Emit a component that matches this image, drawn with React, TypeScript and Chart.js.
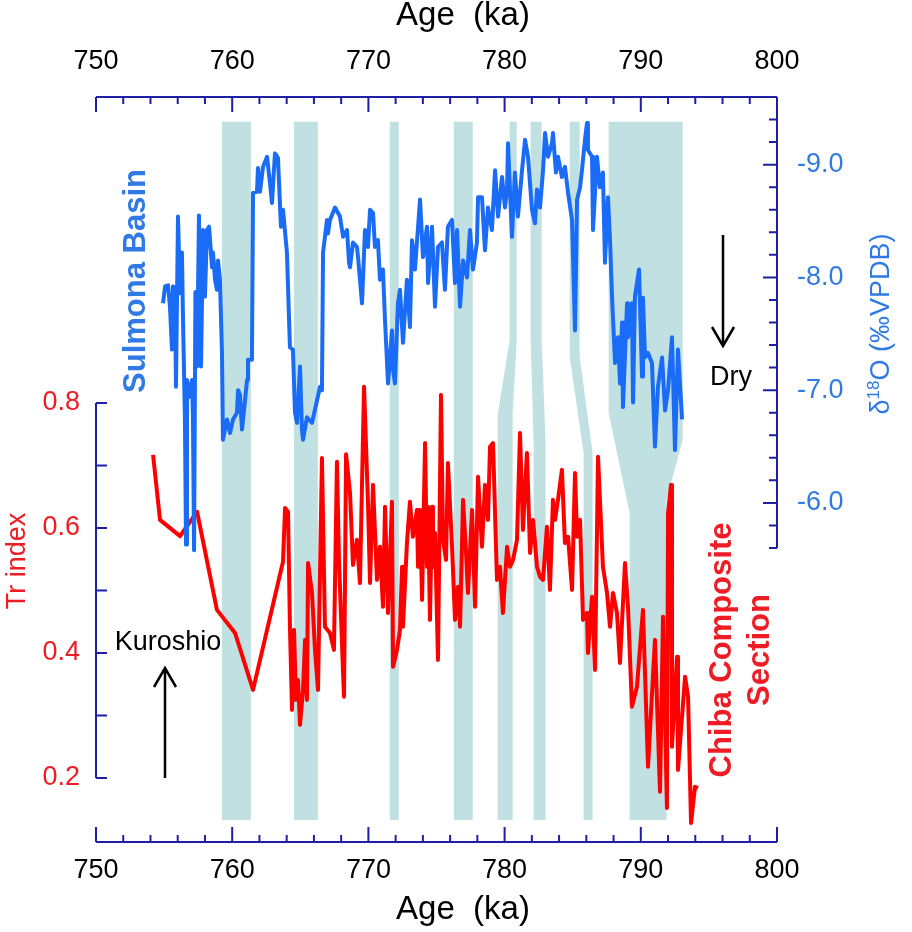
import React, { useEffect, useRef } from 'react';
import { Chart, registerables } from 'chart.js';

Chart.register(...registerables);

// ---------- data ----------
const blueAge = [
  754.92, 755.07, 755.29, 755.43, 755.58, 755.65, 755.80, 755.87, 756.02, 756.17,
  756.31, 756.39, 756.53, 756.61, 756.68, 756.83, 757.05, 757.12, 757.20, 757.30,
  757.42, 757.56, 757.71, 757.86, 758.00, 758.15, 758.30, 758.52, 758.59, 758.74,
  758.88, 758.96, 759.10, 759.25, 759.32, 759.62, 759.84, 760.06, 760.35, 760.43,
  760.57, 760.72, 760.94, 761.09, 761.16, 761.45, 761.53, 761.82, 761.89, 762.04,
  762.26, 762.56, 762.78, 762.92, 763.14, 763.36, 763.58, 763.73, 764.02, 764.24,
  764.46, 764.61, 764.76, 764.98, 765.12, 765.20, 765.49, 765.86, 766.23, 766.45,
  766.59, 766.67, 766.96, 767.03, 767.18, 767.55, 767.91, 768.14, 768.43, 768.58,
  768.65, 768.87, 769.16, 769.24, 769.53, 769.75, 769.97, 770.12, 770.34, 770.48,
  770.70, 770.85, 771.07, 771.22, 771.44, 771.73, 771.81, 771.95, 772.17, 772.32,
  772.54, 772.83, 773.05, 773.20, 773.42, 773.79, 774.01, 774.30, 774.38, 774.67,
  774.89, 775.11, 775.40, 775.62, 775.84, 776.14, 776.36, 776.51, 776.73, 776.95,
  777.24, 777.46, 777.68, 777.97, 778.05, 778.34, 778.56, 778.78, 779.07, 779.30,
  779.52, 779.81, 780.03, 780.18, 780.25, 780.54, 780.76, 780.98, 781.28, 781.50,
  781.72, 782.01, 782.23, 782.38, 782.60, 782.82, 782.97, 783.19, 783.48, 783.55,
  783.77, 783.92, 784.21, 784.43, 784.66, 784.95, 785.17, 785.32, 785.54, 785.68,
  785.90, 786.05, 786.12, 786.42, 786.49, 786.78, 787.00, 787.22, 787.37, 787.59,
  787.74, 787.89, 788.11, 788.33, 788.47, 788.62, 788.69, 788.99, 789.06, 789.35,
  789.43, 789.57, 789.72, 789.87, 790.09, 790.16, 790.31, 790.53, 790.82, 791.04,
  791.26, 791.56, 791.78, 792.00, 792.29, 792.51, 792.73, 793.03,
];
const blueD18O = [
  -7.77, -7.92, -7.93, -7.74, -7.36, -7.92, -7.91, -7.03, -8.54, -7.86,
  -8.22, -7.62, -6.74, -5.63, -7.09, -6.94, -7.09, -6.74, -5.58, -7.87,
  -7.21, -8.55, -7.21, -8.42, -7.83, -8.42, -8.45, -8.09, -8.22, -7.98,
  -7.89, -8.15, -7.98, -7.33, -6.56, -6.74, -6.62, -6.74, -6.80, -7.00,
  -6.96, -6.65, -6.91, -7.09, -7.27, -7.27, -8.75, -8.76, -8.97, -8.76,
  -8.98, -9.07, -8.83, -8.66, -9.10, -9.06, -8.45, -8.60, -8.22, -7.38,
  -7.36, -6.80, -6.71, -7.21, -6.65, -6.56, -6.76, -6.71, -6.91, -7.03,
  -7.00, -8.22, -8.51, -8.39, -8.51, -8.62, -8.54, -8.36, -8.42, -8.13,
  -8.09, -8.31, -8.27, -8.18, -7.77, -8.42, -8.27, -8.60, -8.57, -8.27,
  -8.33, -7.98, -8.07, -7.62, -7.06, -7.53, -7.18, -7.06, -7.77, -7.89,
  -7.42, -7.98, -7.56, -8.33, -8.07, -8.69, -8.18, -8.45, -7.95, -8.45,
  -7.74, -8.27, -8.31, -7.89, -8.45, -8.51, -7.95, -8.42, -7.74, -8.15,
  -8.00, -8.42, -8.07, -8.31, -8.71, -8.71, -8.24, -8.62, -8.42, -8.95,
  -8.54, -8.89, -8.62, -8.78, -9.19, -8.36, -8.93, -8.54, -8.95, -9.22,
  -9.07, -8.60, -8.48, -8.78, -8.62, -8.95, -9.28, -9.07, -9.19, -9.28,
  -8.93, -9.07, -8.89, -8.98, -8.75, -8.51, -7.53, -8.69, -8.80, -8.95,
  -9.22, -9.37, -9.13, -9.07, -8.42, -9.07, -8.80, -8.93, -8.13, -8.71,
  -8.33, -7.82, -7.24, -7.47, -7.06, -7.60, -6.85, -7.77, -7.47, -7.77,
  -6.89, -7.83, -7.95, -8.07, -7.12, -7.82, -7.29, -7.33, -7.24, -6.50,
  -7.03, -7.29, -6.82, -7.00, -7.47, -6.47, -7.36, -6.74,
];
const redAge = [
  754.19, 754.70, 756.17, 757.42, 758.88, 760.21, 761.53, 763.73, 763.88, 764.10,
  764.24, 764.39, 764.54, 764.68, 764.83, 764.98, 765.20, 765.35, 765.49, 765.57,
  765.86, 766.08, 766.30, 766.59, 766.81, 767.18, 767.47, 767.69, 767.84, 768.14,
  768.21, 768.36, 768.65, 768.87, 769.16, 769.38, 769.68, 769.97, 770.12, 770.34,
  770.63, 770.85, 771.07, 771.22, 771.44, 771.73, 771.81, 772.10, 772.32, 772.47,
  772.54, 772.83, 773.05, 773.27, 773.57, 773.64, 773.79, 773.94, 774.16, 774.30,
  774.38, 774.52, 774.67, 774.74, 774.89, 775.11, 775.33, 775.48, 775.70, 775.84,
  776.14, 776.36, 776.58, 776.73, 776.95, 777.17, 777.31, 777.61, 777.83, 778.05,
  778.34, 778.56, 778.78, 778.93, 779.15, 779.44, 779.66, 779.88, 780.18, 780.40,
  780.62, 780.91, 781.13, 781.35, 781.64, 781.87, 782.09, 782.38, 782.60, 782.82,
  783.11, 783.33, 783.55, 783.70, 783.92, 784.21, 784.43, 784.66, 784.95, 785.17,
  785.32, 785.54, 785.76, 786.05, 786.12, 786.42, 786.64, 786.86, 787.22, 787.52,
  787.74, 787.96, 788.25, 788.47, 788.84, 789.06, 789.35, 789.72, 790.16, 790.53,
  791.04, 791.41, 791.63, 791.92, 792.00, 792.22, 792.29, 792.66, 792.73, 793.25,
  793.47, 793.69, 793.98, 794.20,
];
const redTr = [
  0.717, 0.613, 0.587, 0.626, 0.469, 0.432, 0.341, 0.546, 0.632, 0.626,
  0.442, 0.309, 0.437, 0.325, 0.357, 0.285, 0.341, 0.421, 0.325, 0.544,
  0.496, 0.405, 0.341, 0.712, 0.442, 0.432, 0.405, 0.706, 0.549, 0.368,
  0.330, 0.718, 0.656, 0.541, 0.581, 0.512, 0.826, 0.640, 0.512, 0.669,
  0.517, 0.570, 0.474, 0.634, 0.464, 0.642, 0.378, 0.405, 0.437, 0.538,
  0.442, 0.576, 0.642, 0.586, 0.629, 0.538, 0.629, 0.485, 0.736, 0.538,
  0.634, 0.453, 0.634, 0.538, 0.592, 0.389, 0.813, 0.581, 0.549, 0.704,
  0.570, 0.453, 0.506, 0.442, 0.645, 0.560, 0.496, 0.629, 0.474, 0.682,
  0.570, 0.669, 0.613, 0.730, 0.736, 0.517, 0.538, 0.464, 0.570, 0.538,
  0.549, 0.581, 0.752, 0.597, 0.720, 0.560, 0.613, 0.538, 0.522, 0.517,
  0.602, 0.501, 0.645, 0.613, 0.645, 0.693, 0.576, 0.586, 0.501, 0.688,
  0.586, 0.613, 0.453, 0.464, 0.400, 0.490, 0.373, 0.714, 0.538, 0.496,
  0.442, 0.496, 0.464, 0.384, 0.544, 0.474, 0.314, 0.346, 0.469, 0.218,
  0.421, 0.178, 0.458, 0.152, 0.624, 0.669, 0.250, 0.394, 0.213, 0.362,
  0.330, 0.128, 0.186, 0.184,
];

const ageTicks = [750, 760, 770, 780, 790, 800];
const trTickLabels = [0.2, 0.4, 0.6, 0.8];
const d18oTickLabels = [-9, -8, -7, -6];

// shaded tie bands (age in ka; break levels in Tr-index units)
const bandUpperStart = [759.24, 764.53, 771.57, 776.27, 780.37, 781.91, 784.78, 787.64];
const bandUpperEnd = [761.37, 766.29, 772.23, 777.66, 780.89, 782.72, 785.51, 793.07];
const bandLowerStart = [759.24, 764.53, 771.57, 776.27, 779.49, 782.13, 785.80, 789.18];
const bandLowerEnd = [761.37, 766.29, 772.23, 777.66, 780.59, 783.01, 786.46, 791.89];
const bandLeftBreakTop = [0.9, 0.9, 0.9, 0.9, 0.901, 0.901, 0.874, 0.784];
const bandLeftBreakBottom = [0.9, 0.9, 0.9, 0.9, 0.781, 0.738, 0.720, 0.624];
const bandRightBreakTop = [0.9, 0.9, 0.9, 0.9, 0.901, 0.901, 0.874, 0.741];
const bandRightBreakBottom = [0.9, 0.9, 0.9, 0.9, 0.781, 0.738, 0.720, 0.645];
const bandTop = 1.25;
const bandBottom = 0.133;

// ---------- styles ----------
const AXIS = '#1e1ea6';
const BLUE_LINE = '#1a6cf6';
const BLUE_TEXT = '#2f7ae4';
const RED_LINE = '#ff0000';
const RED_TEXT = '#ee1c24';
const BAND = '#c1e0e1';
const FONT = '"Liberation Sans", Arial, Helvetica, sans-serif';

const decor = {
  id: 'decor',
  beforeDatasetsDraw(chart: any) {
    const { ctx, scales } = chart;
    const x = scales.x;
    const y = scales.yR;
    ctx.save();
    ctx.fillStyle = BAND;
    for (let i = 0; i < bandUpperStart.length; i++) {
      const pts: [number, number][] = [
        [bandUpperStart[i], bandTop],
        [bandUpperEnd[i], bandTop],
        [bandUpperEnd[i], bandRightBreakTop[i]],
        [bandLowerEnd[i], bandRightBreakBottom[i]],
        [bandLowerEnd[i], bandBottom],
        [bandLowerStart[i], bandBottom],
        [bandLowerStart[i], bandLeftBreakBottom[i]],
        [bandUpperStart[i], bandLeftBreakTop[i]],
      ];
      ctx.beginPath();
      pts.forEach(([a, b], k) => {
        const px = x.getPixelForValue(a);
        const py = y.getPixelForValue(b);
        if (k === 0) ctx.moveTo(px, py);
        else ctx.lineTo(px, py);
      });
      ctx.closePath();
      ctx.fill();
    }
    ctx.restore();
  },
  afterDraw(chart: any) {
    const { ctx, scales, chartArea } = chart;
    const x = scales.x;
    const yR = scales.yR;
    const yB = scales.yB;
    const { left, right, top, bottom } = chartArea;
    ctx.save();
    ctx.strokeStyle = AXIS;
    ctx.lineWidth = 2;
    ctx.lineCap = 'butt';

    // top & bottom axes
    ctx.beginPath();
    ctx.moveTo(left, top);
    ctx.lineTo(right, top);
    ctx.moveTo(left, bottom);
    ctx.lineTo(right, bottom);
    for (let a = 750; a <= 800; a += 2) {
      const px = x.getPixelForValue(a);
      const len = a % 10 === 0 ? 15 : 7;
      ctx.moveTo(px, top);
      ctx.lineTo(px, top + len);
      ctx.moveTo(px, bottom);
      ctx.lineTo(px, bottom - len);
    }
    // left Tr axis
    const y08 = yR.getPixelForValue(0.8);
    const y02 = yR.getPixelForValue(0.2);
    ctx.moveTo(left, y08);
    ctx.lineTo(left, y02);
    for (let k = 2; k <= 8; k++) {
      const py = yR.getPixelForValue(k / 10);
      ctx.moveTo(left, py);
      ctx.lineTo(left + 11, py);
    }
    // right d18O axis
    const yEnd = yB.getPixelForValue(-5.6);
    ctx.moveTo(right, top);
    ctx.lineTo(right, yEnd);
    for (let k = 0; k <= 20; k++) {
      const v = -9.6 + k * 0.2;
      const py = yB.getPixelForValue(v);
      const major = Math.abs(v - Math.round(v)) < 1e-6;
      ctx.moveTo(right, py);
      ctx.lineTo(right - (major ? 14 : 8), py);
    }
    ctx.stroke();

    // tick labels
    ctx.font = `27px ${FONT}`;
    ctx.fillStyle = '#000';
    ctx.textAlign = 'center';
    ctx.textBaseline = 'middle';
    ageTicks.forEach((a) => {
      const px = x.getPixelForValue(a);
      ctx.fillText(String(a), px, top - 35);
      ctx.fillText(String(a), px, bottom + 29);
    });
    ctx.fillStyle = RED_TEXT;
    ctx.textAlign = 'right';
    trTickLabels.forEach((v) => {
      ctx.fillText(v.toFixed(1), 80, yR.getPixelForValue(v));
    });
    ctx.fillStyle = BLUE_TEXT;
    ctx.textAlign = 'left';
    d18oTickLabels.forEach((v) => {
      ctx.fillText(v.toFixed(1), 797, yB.getPixelForValue(v));
    });

    // axis titles
    ctx.fillStyle = '#000';
    ctx.textAlign = 'center';
    ctx.font = `33px ${FONT}`;
    ctx.fillText('Age  (ka)', 463, 16);
    ctx.fillText('Age  (ka)', 463, 910);

    // Tr index (left)
    ctx.save();
    ctx.translate(18, 561);
    ctx.rotate(-Math.PI / 2);
    ctx.fillStyle = RED_TEXT;
    ctx.font = `27px ${FONT}`;
    ctx.fillText('Tr index', 0, 0);
    ctx.restore();

    // δ18O (‰VPDB) (right)
    ctx.save();
    ctx.translate(882, 324);
    ctx.rotate(-Math.PI / 2);
    ctx.fillStyle = BLUE_TEXT;
    ctx.textAlign = 'left';
    ctx.textBaseline = 'middle';
    const big = `27px ${FONT}`;
    const small = `17px ${FONT}`;
    ctx.font = big;
    const w1 = ctx.measureText('δ').width;
    const w3 = ctx.measureText('O (‰VPDB)').width;
    ctx.font = small;
    const w2 = ctx.measureText('18').width;
    let cx = -(w1 + w2 + w3) / 2;
    ctx.font = big;
    ctx.fillText('δ', cx, 0);
    cx += w1;
    ctx.font = small;
    ctx.fillText('18', cx, -8);
    cx += w2;
    ctx.font = big;
    ctx.fillText('O (‰VPDB)', cx, 0);
    ctx.restore();

    // series labels
    ctx.save();
    ctx.translate(136, 281);
    ctx.rotate(-Math.PI / 2);
    ctx.textAlign = 'center';
    ctx.fillStyle = BLUE_TEXT;
    ctx.font = `bold 31px ${FONT}`;
    ctx.fillText('Sulmona Basin', 0, 0);
    ctx.restore();

    ctx.save();
    ctx.translate(722, 650);
    ctx.rotate(-Math.PI / 2);
    ctx.textAlign = 'center';
    ctx.fillStyle = RED_TEXT;
    ctx.font = `bold 31px ${FONT}`;
    ctx.fillText('Chiba Composite', 0, 0);
    ctx.fillText('Section', 0, 38);
    ctx.restore();

    // annotations: Dry / Kuroshio arrows
    ctx.strokeStyle = '#000';
    ctx.fillStyle = '#000';
    ctx.lineWidth = 2.5;
    ctx.beginPath();
    ctx.moveTo(723, 235);
    ctx.lineTo(723, 346);
    ctx.moveTo(712, 327);
    ctx.lineTo(723, 346);
    ctx.lineTo(734, 327);
    ctx.moveTo(165, 778);
    ctx.lineTo(165, 668);
    ctx.moveTo(154, 687);
    ctx.lineTo(165, 668);
    ctx.lineTo(176, 687);
    ctx.stroke();
    ctx.font = `27px ${FONT}`;
    ctx.textAlign = 'center';
    ctx.textBaseline = 'middle';
    ctx.fillText('Dry', 731, 378);
    ctx.fillText('Kuroshio', 168, 643);
    ctx.restore();
  },
};

export default function App() {
  const canvasRef = useRef<HTMLCanvasElement | null>(null);

  useEffect(() => {
    const canvas = canvasRef.current;
    if (!canvas) return;
    const chart = new Chart(canvas, {
      type: 'line',
      data: {
        datasets: [
          {
            label: 'Sulmona Basin',
            data: blueAge.map((a, i) => ({ x: a, y: blueD18O[i] })),
            xAxisID: 'x',
            yAxisID: 'yB',
            borderColor: BLUE_LINE,
            borderWidth: 4,
            pointRadius: 0,
            tension: 0,
            fill: false,
            borderJoinStyle: 'round',
          },
          {
            label: 'Chiba Composite Section',
            data: redAge.map((a, i) => ({ x: a, y: redTr[i] })),
            xAxisID: 'x',
            yAxisID: 'yR',
            borderColor: RED_LINE,
            borderWidth: 4,
            pointRadius: 0,
            tension: 0,
            fill: false,
            borderJoinStyle: 'round',
          },
        ],
      },
      options: {
        animation: false,
        responsive: false,
        devicePixelRatio: 1,
        events: [],
        layout: { padding: { left: 96, top: 97, right: 135, bottom: 90 } },
        plugins: { legend: { display: false }, tooltip: { enabled: false } },
        scales: {
          x: { type: 'linear', min: 750, max: 800, display: false },
          yR: { type: 'linear', min: 0.0976, max: 1.2896, display: false },
          yB: { type: 'linear', min: -9.6, max: -2.9925, reverse: true, display: false },
        },
      } as any,
      plugins: [decor],
    });
    return () => chart.destroy();
  }, []);

  return (
    <div style={{ position: 'fixed', left: 0, top: 0, width: 912, height: 932, background: '#fff' }}>
      <canvas ref={canvasRef} width={912} height={932} style={{ display: 'block', width: 912, height: 932 }} />
    </div>
  );
}
